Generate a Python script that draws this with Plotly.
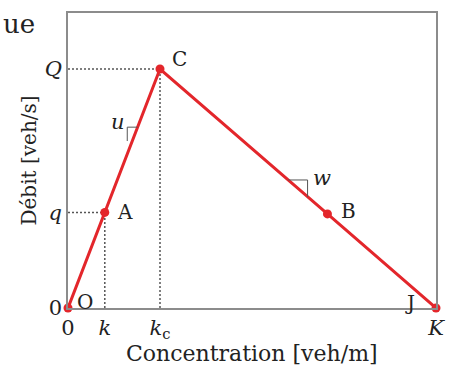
import plotly.graph_objects as go

# Fundamental diagram (triangular), axes 0..100
concentration = [0, 10, 25, 70.5, 100]
flow = [0, 32.4, 81, 31.9, 0]
point_labels = ["O", "A", "C", "B", "J"]

x_tick_vals = [0, 10, 25, 100]
x_tick_text = ["0", "<i>k</i>", "<i>k</i><sub>c</sub>", "<i>K</i>"]
y_tick_vals = [0, 32.4, 81]
y_tick_text = ["0", "<i>q</i>", "<i>Q</i>"]

red = "#e3262b"
grey = "#555555"
serif = "DejaVu Serif"

fig = go.Figure()

# dotted guides from A and C to the axes
for i in (1, 2):
    fig.add_trace(go.Scatter(x=[0, concentration[i]], y=[flow[i], flow[i]], mode="lines",
                             line=dict(color=grey, width=1.5, dash="2px,2px"),
                             hoverinfo="skip", showlegend=False))
    fig.add_trace(go.Scatter(x=[concentration[i], concentration[i]], y=[0, flow[i]], mode="lines",
                             line=dict(color=grey, width=1.5, dash="2px,2px"),
                             hoverinfo="skip", showlegend=False))

# the diagram itself
fig.add_trace(go.Scatter(x=concentration, y=flow, mode="lines+markers",
                         line=dict(color=red, width=3),
                         marker=dict(color=red, size=9),
                         cliponaxis=False, showlegend=False))

# point labels (pixel offsets)
offsets = {"O": (17, 6), "A": (20, 0), "C": (19, 10), "B": (21, 3), "J": (-26, 5)}
for x, y, name in zip(concentration, flow, point_labels):
    dx, dy = offsets[name]
    fig.add_annotation(x=x, y=y, text=name, showarrow=False, xshift=dx, yshift=dy,
                       font=dict(family=serif, size=20, color="#222"))

# slope markers u and w
def on_oc(y):
    return y * concentration[2] / flow[2]

def y_on_ck(x):
    return flow[2] * (concentration[4] - x) / (concentration[4] - concentration[2])

def x_on_ck(y):
    return concentration[4] - y * (concentration[4] - concentration[2]) / flow[2]

u_x, u_y = 16.1, 61.3
fig.add_shape(type="line", x0=u_x, y0=u_y, x1=on_oc(u_y), y1=u_y, line=dict(color=grey, width=1))
fig.add_shape(type="line", x0=u_x, y0=u_y, x1=u_x, y1=56.6, line=dict(color=grey, width=1))
fig.add_annotation(x=u_x, y=u_y, text="<i>u</i>", showarrow=False, xshift=-9, yshift=5,
                   font=dict(family=serif, size=21, color="#222"))

w_x, w_y = 65.1, 43.4
fig.add_shape(type="line", x0=x_on_ck(w_y), y0=w_y, x1=w_x, y1=w_y, line=dict(color=grey, width=1))
fig.add_shape(type="line", x0=w_x, y0=w_y, x1=w_x, y1=y_on_ck(w_x), line=dict(color=grey, width=1))
fig.add_annotation(x=w_x, y=w_y, text="<i>w</i>", showarrow=False, xshift=14, yshift=2,
                   font=dict(family=serif, size=21, color="#222"))

# axis titles and the cut-off heading
fig.add_annotation(xref="paper", yref="paper", x=0.5, y=0, yshift=-45, yanchor="middle",
                   text="Concentration [veh/m]", showarrow=False,
                   font=dict(family=serif, size=22, color="#222"))
fig.add_annotation(xref="paper", yref="paper", x=0, y=0.5, xshift=-40, xanchor="center",
                   yanchor="middle", textangle=-90, text="Débit [veh/s]", showarrow=False,
                   font=dict(family=serif, size=20, color="#222"))
fig.add_annotation(xref="paper", yref="paper", x=0, y=1, xshift=-67, yshift=-11, xanchor="left",
                   yanchor="middle", text="ue", showarrow=False,
                   font=dict(family=serif, size=26, color="#222"))

axis_style = dict(showgrid=False, zeroline=False, showline=True, mirror=True,
                  linecolor="#8c8c8c", linewidth=1.5, ticks="",
                  tickfont=dict(family=serif, size=21, color="#222"))

fig.update_layout(
    width=456, height=365,
    margin=dict(l=68, r=15, t=11, b=57),
    paper_bgcolor="white", plot_bgcolor="white",
    xaxis=dict(range=[0, 100], tickvals=x_tick_vals, ticktext=x_tick_text, **axis_style),
    yaxis=dict(range=[0, 100], tickvals=y_tick_vals, ticktext=y_tick_text, **axis_style),
)

fig.write_html("out.html", config={"displayModeBar": False},
               post_script="document.body.style.margin='0';")
